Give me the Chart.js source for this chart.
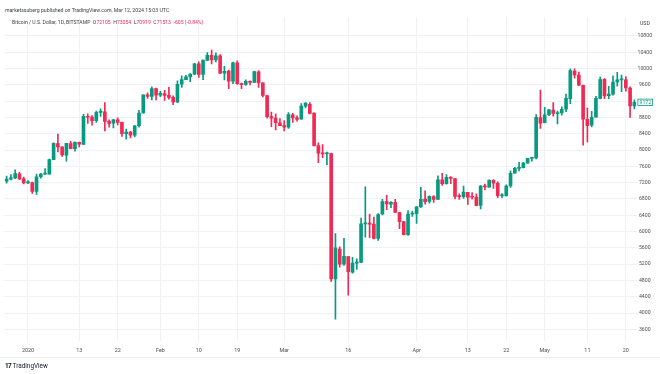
<!DOCTYPE html>
<html>
<head>
<meta charset="utf-8">
<script src="https://cdn.jsdelivr.net/npm/chart.js@4.4.1/dist/chart.umd.min.js"></script>
<style>
body{margin:0;background:#fff;font-family:Roboto,"Noto Sans",sans-serif;}
#wrap{position:relative;width:660px;height:374px;overflow:hidden;background:#fff;}
#chart_div{position:absolute;left:0;top:0;width:660px;height:374px;}
.txt{position:absolute;white-space:nowrap;line-height:1;color:#3b3e47;}
.rojo{color:#ef2a54;}
#pie{position:absolute;left:0;top:357px;width:660px;height:0;border-top:1px solid #ececec;}
</style>
</head>
<body>
<div id="wrap">
  <div id="chart_div"><canvas id="grafica"></canvas></div>
  <div class="txt" style="left:5px;top:7.5px;font-size:5.2px;">marketssuberg published on TradingView.com, Mar 12, 2024 15:03 UTC</div>
  <div class="txt" style="left:12px;top:19.5px;font-size:5.1px;">Bitcoin / U.S. Dollar, 1D, BITSTAMP&nbsp; O<span class="rojo">72105</span>&nbsp; H<span class="rojo">73054</span>&nbsp; L<span class="rojo">70919</span>&nbsp; C<span class="rojo">71513</span>&nbsp; <span class="rojo">-605 (-0.84%)</span></div>
  <div class="txt" style="left:640px;top:20.5px;font-size:5.2px;">USD</div>
  <div id="pie"></div>
  <div class="txt" style="left:5px;top:363px;font-size:6.4px;color:#131722;"><b style="letter-spacing:-0.6px;">17</b> TradingView</div>
</div>
<script>
// velas diarias BTC/USD (Bitstamp), 27 dic 2019 -> 22 may 2020
var fecha_inicio = "2019-12-27";

var precio_apertura = [
    7238, 7289, 7317, 7420, 7294,
    7194, 7202, 6984, 7345, 7410, 7410, 7768, 8161, 8082, 7878, 8162, 8033, 8189, 8140, 8825, 8812, 8725, 8927, 8941, 8704, 8658, 8744, 8681, 8405, 8440, 8364, 8597, 8912, 9358, 9316, 9508,
    9346, 9389, 9344, 9292, 9183, 9617, 9726, 9793, 9863, 10115, 9855, 10202, 10323, 10211, 10313, 9889, 9936, 9691, 10144, 9629, 9611, 9687, 9663, 9921, 9651, 9340, 8825, 8788, 8671,
    8599, 8564, 8866, 8789, 8760, 9079, 9122, 8908, 8112, 7922, 7910, 7913, 4840, 5573, 5201, 5385, 5002, 5227, 5245, 6191, 6206, 6185, 5831, 6436, 6738, 6676, 6719, 6467, 6245, 5925, 6431,
    6437, 6606, 6797, 6738, 6862, 6788, 7273, 7179, 7337, 7303, 6866, 6858, 6965, 6843, 6845, 6640, 7116, 7093, 7261, 7186, 6880, 6879, 7121, 7434, 7551, 7570, 7679, 7796, 7806, 8797,
    8672, 8869, 8983, 8895, 8912, 9007, 9261, 9936, 9840, 9591, 8755, 8610, 8805, 9271, 9734, 9333, 9374, 9675, 9725, 9726, 9522, 9081
];
var precio_maximo = [
    7363, 7399, 7513, 7454, 7335,
    7254, 7212, 7413, 7427, 7544, 7781, 8178, 8396, 8082, 8166, 8218, 8200, 8197, 8879, 8890, 8846, 8959, 9012, 9164, 8745, 8755, 8792, 8687, 8514, 8458, 8602, 8977, 9358, 9406, 9553, 9521,
    9439, 9468, 9540, 9331, 9701, 9824, 9834, 9876, 10129, 10165, 10210, 10393, 10457, 10387, 10341, 10053, 9965, 10161, 10191, 9643, 9723, 9698, 9937, 9951, 9652, 9340, 8932, 8890, 8775,
    8726, 8921, 8904, 8843, 9142, 9167, 9163, 8914, 8177, 8136, 7950, 7929, 5950, 5625, 5836, 5385, 5371, 5331, 6329, 7100, 6432, 6359, 6443, 6789, 6892, 6735, 6793, 6467, 6250, 6517, 6504,
    6612, 7088, 7003, 6878, 6883, 7371, 7427, 7397, 7341, 7303, 6926, 7119, 6965, 6958, 6928, 7134, 7167, 7269, 7274, 7220, 6934, 7145, 7491, 7574, 7700, 7700, 7795, 7814, 8871, 9475,
    9048, 9001, 9167, 8956, 9062, 9375, 9992, 9996, 9913, 9595, 9033, 8949, 9317, 9793, 9755, 9564, 9823, 9906, 9842, 9804, 9555, 9232
];
var precio_minimo = [
    7189, 7271, 7300, 7276, 7169,
    7175, 6935, 6914, 7309, 7400, 7409, 7768, 7956, 7842, 7727, 8029, 7976, 8079, 8140, 8657, 8612, 8677, 8827, 8470, 8560, 8544, 8618, 8333, 8266, 8296, 8325, 8560, 8908, 9269, 9230, 9230,
    9313, 9217, 9248, 9112, 9163, 9539, 9726, 9678, 9850, 9784, 9730, 10202, 10116, 10164, 9875, 9722, 9507, 9632, 9611, 9507, 9589, 9600, 9657, 9537, 9305, 8785, 8577, 8492, 8599,
    8471, 8532, 8678, 8712, 8760, 9032, 8890, 8105, 7690, 7814, 7642, 4780, 3850, 5125, 5169, 4440, 4981, 5069, 5236, 5865, 5853, 5823, 5785, 6411, 6536, 6590, 6466, 6070, 5920, 5903, 6374,
    6202, 6595, 6673, 6696, 6715, 6788, 7136, 7166, 7179, 6802, 6789, 6811, 6668, 6793, 6633, 6555, 7020, 7089, 7057, 6835, 6834, 6867, 7081, 7434, 7487, 7561, 7679, 7730, 7786, 8533,
    8667, 8843, 8830, 8645, 8856, 8943, 9138, 9767, 9580, 8120, 8200, 8569, 8805, 9255, 9261, 9260, 9349, 9570, 9432, 9447, 8800, 9008
];
var precio_cierre = [
    7290, 7317, 7422, 7292, 7193,
    7200, 6985, 7345, 7410, 7411, 7769, 8163, 8079, 7879, 8166, 8037, 8192, 8144, 8827, 8807, 8723, 8929, 8942, 8706, 8657, 8745, 8680, 8406, 8445, 8368, 8596, 8909, 9358, 9316, 9508, 9350,
    9392, 9344, 9293, 9180, 9613, 9729, 9795, 9865, 10116, 9856, 10208, 10326, 10214, 10312, 9889, 9934, 9691, 10141, 9633, 9608, 9686, 9663, 9924, 9650, 9341, 8820, 8784, 8672, 8599,
    8563, 8869, 8787, 8755, 9078, 9153, 8897, 8108, 7923, 7909, 7911, 4840, 5600, 5200, 5392, 5014, 5225, 5238, 6191, 6198, 6185, 5830, 6416, 6734, 6681, 6716, 6469, 6242, 5922, 6429, 6438,
    6606, 6793, 6733, 6867, 6791, 7271, 7176, 7334, 7302, 6865, 6859, 6971, 6845, 6842, 6642, 7116, 7096, 7257, 7189, 6881, 6880, 7117, 7429, 7550, 7569, 7679, 7795, 7807, 8801, 8658,
    8864, 8988, 8897, 8912, 9003, 9268, 9951, 9842, 9593, 8756, 8601, 8804, 9269, 9733, 9328, 9377, 9670, 9726, 9729, 9523, 9082, 9172
];

// etiquetas de los ejes
var fechas_eje = ["2020-01-01", "2020-01-13", "2020-01-22", "2020-02-01", "2020-02-10", "2020-02-19", "2020-03-01",
                  "2020-03-16", "2020-04-01", "2020-04-13", "2020-04-22", "2020-05-01", "2020-05-11", "2020-05-20"];
var textos_eje = ["2020", "13", "22", "Feb", "10", "19", "Mar", "16", "Apr", "13", "22", "May", "11", "20"];
var precios_eje = [3600, 4000, 4400, 4800, 5200, 5600, 6000, 6400, 6800, 7200, 7600, 8000, 8400, 8800, 9200, 9600, 10000, 10400, 10800];

var color_sube = "#089981";
var color_baja = "#ef2a54";

var dias = [];
var d0 = new Date(fecha_inicio + "T00:00:00Z");
for (var i = 0; i < precio_cierre.length; i++) {
    var d = new Date(d0.getTime() + i * 86400000);
    dias.push(d.toISOString().slice(0, 10));
}

var texto_por_dia = {};
fechas_eje.forEach(function(f, k){ texto_por_dia[f] = textos_eje[k]; });

var ultimo_cierre = precio_cierre[precio_cierre.length - 1];

var cuerpos = [], mechas = [], colores = [];
for (var i = 0; i < precio_cierre.length; i++) {
    cuerpos.push([precio_apertura[i], precio_cierre[i]]);
    mechas.push([precio_minimo[i], precio_maximo[i]]);
    colores.push(precio_cierre[i] >= precio_apertura[i] ? color_sube : color_baja);
}

var etiqueta_precio = {
    id: 'etiqueta_precio',
    afterDraw: function(chart){
        var ctx = chart.ctx;
        var y = chart.scales.y.getPixelForValue(ultimo_cierre);
        var x = chart.chartArea.right + 1;
        ctx.save();
        ctx.fillStyle = "#ffffff";
        ctx.strokeStyle = color_sube;
        ctx.lineWidth = 0.8;
        ctx.fillRect(x, y - 3.6, 15.5, 7.2);
        ctx.strokeRect(x + 0.4, y - 3.2, 14.7, 6.4);
        ctx.fillStyle = color_sube;
        ctx.font = "5.2px Roboto";
        ctx.textAlign = "center";
        ctx.textBaseline = "middle";
        ctx.fillText(String(ultimo_cierre), x + 7.8, y + 0.3);
        ctx.restore();
    }
};

var ctx = document.getElementById("grafica").getContext("2d");
window.myBar = new Chart(ctx, {
    type: 'bar',
    data: {
        labels: dias,
        datasets: [{
            label: 'cuerpo',
            data: cuerpos,
            backgroundColor: colores,
            borderWidth: 0,
            barThickness: 3,
            minBarLength: 1,
            grouped: false
        }, {
            label: 'mecha',
            data: mechas,
            backgroundColor: colores,
            borderWidth: 0,
            barThickness: 1,
            grouped: false
        }]
    },
    options: {
        responsive: true,
        maintainAspectRatio: false,
        animation: false,
        layout: { padding: { left: 4.5, top: 17.25, right: 0, bottom: 0 } },
        plugins: {
            legend: { display: false },
            tooltip: { enabled: false },
            title: { display: false }
        },
        scales: {
            x: {
                offset: true,
                grid: { offset: false, color: "#eff1f5", lineWidth: 1, drawTicks: false },
                border: { display: false },
                ticks: {
                    autoSkip: false,
                    maxRotation: 0,
                    padding: 7,
                    color: "#4a4d55",
                    font: { family: "Roboto", size: 5.4 },
                    callback: function(value, index){
                        var t = texto_por_dia[dias[index]];
                        return t === undefined ? null : t;
                    }
                },
                afterFit: function(s){ s.height = 33.2; }
            },
            y: {
                position: 'right',
                min: 3320,
                max: 11260,
                afterBuildTicks: function(s){
                    s.ticks = precios_eje.map(function(v){ return { value: v }; });
                },
                grid: { color: "#eff1f5", lineWidth: 1, drawTicks: false },
                border: { display: false },
                ticks: {
                    autoSkip: false,
                    padding: 1,
                    crossAlign: 'center',
                    color: "#4a4d55",
                    font: { family: "Roboto", size: 5.2 },
                    callback: function(value){
                        // la etiqueta que tapa el precio actual no se muestra
                        if (Math.abs(value - ultimo_cierre) < 200) return '';
                        return String(value);
                    }
                },
                afterFit: function(s){ s.width = 23.5; }
            }
        }
    },
    plugins: [etiqueta_precio]
});
</script>
</body>
</html>
